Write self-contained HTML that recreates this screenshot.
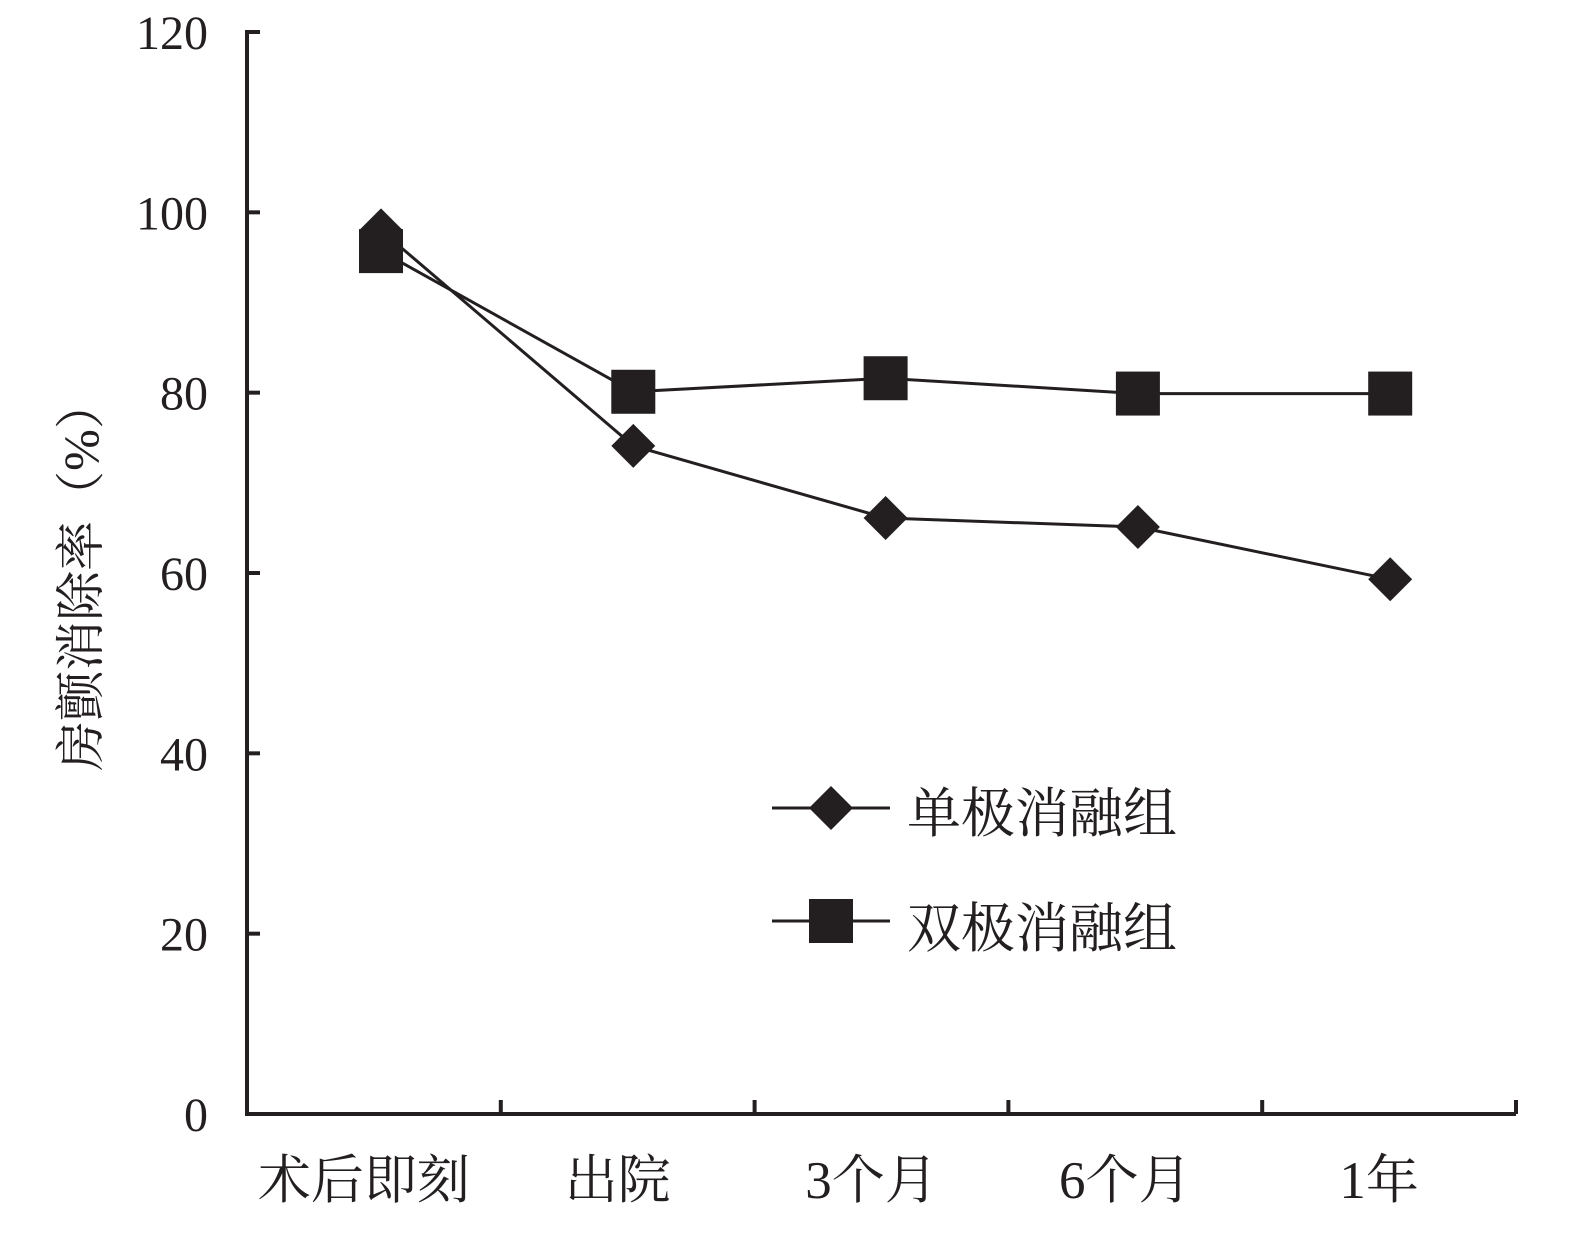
<!DOCTYPE html>
<html><head><meta charset="utf-8"><style>
body{margin:0;background:#fff}
svg text{font-family:"Liberation Serif","Noto Serif CJK SC",serif;fill:#231f20}
</style></head><body>
<svg width="1589" height="1232" viewBox="0 0 1589 1232">
<g id="axes"></g>
<g id="series"></g>
<g>
 <g>
  <line x1="772" y1="808" x2="890" y2="808" stroke="#231f20" stroke-width="3"/>
  <polygon points="831,786 853,808 831,830 809,808" fill="#231f20"/>
  <text x="907" y="832" font-size="54">单极消融组</text>
 </g>
 <g>
  <line x1="772" y1="921" x2="890" y2="921" stroke="#231f20" stroke-width="3"/>
  <rect x="809" y="899" width="44" height="44" fill="#231f20"/>
  <text x="907" y="947" font-size="54">双极消融组</text>
 </g>
</g>
<text transform="translate(98,575) rotate(-90)" text-anchor="middle" font-size="50">房颤消除率（%）</text>
</svg>
<script>
const categories=["术后即刻","出院","3个月","6个月","1年"];
const monopolar=[98,74.1,66.1,65.1,59.3];
const bipolar=[95.7,80.1,81.6,79.9,79.9];
const yTicks=[0,20,40,60,80,100,120];
const NS="http://www.w3.org/2000/svg";
const x0=247,x1=1516,y0=1114,yTop=32;
const yS=v=>y0-(v/120)*(y0-yTop);
const xC=i=>381+i*252.3;
function mk(t,a,p){const e=document.createElementNS(NS,t);for(const k in a)e.setAttribute(k,a[k]);p.appendChild(e);return e;}
const ax=document.getElementById('axes');
const yl=mk('line',{x1:x0,y1:yTop-2,x2:x0,y2:y0+2,stroke:'#231f20','stroke-width':4},ax);


const xl=mk('line',{x1:x0-2,y1:y0,x2:x1,y2:y0,stroke:'#231f20','stroke-width':4},ax);


yTicks.forEach(v=>{
 const tk=mk('line',{x1:x0,y1:yS(v),x2:x0+13,y2:yS(v),stroke:'#231f20','stroke-width':4},ax);
 
 
 const t=mk('text',{x:208,y:yS(v)+17,'text-anchor':'end','font-size':48},ax);t.textContent=v;
 
 
});
const step=(x1-x0)/categories.length;
for(let i=1;i<=categories.length;i++){
 const tk=mk('line',{x1:x0+i*step,y1:y0,x2:x0+i*step,y2:y0-14,stroke:'#231f20','stroke-width':4},ax);
 
 
}
categories.forEach((c,i)=>{
 const t=mk('text',{x:x0+(i+0.5)*step-10,y:1198,'text-anchor':'middle','font-size':53},ax);t.textContent=c;
 
 
});
const sr=document.getElementById('series');
function line(arr,name){
 const p=mk('polyline',{points:arr.map((v,i)=>xC(i)+','+yS(v)).join(' '),fill:'none',stroke:'#231f20','stroke-width':3},sr);
 
 
}
line(bipolar,'bipolar-line');
line(monopolar,'monopolar-line');
monopolar.forEach((v,i)=>{
 const x=xC(i),y=yS(v);
 const d=mk('polygon',{points:`${x},${y-22} ${x+22},${y} ${x},${y+22} ${x-22},${y}`,fill:'#231f20'},sr);
 
 
});
bipolar.forEach((v,i)=>{
 const r=mk('rect',{x:xC(i)-22,y:yS(v)-22,width:44,height:44,fill:'#231f20'},sr);
 
 
});
</script>
</body></html>
